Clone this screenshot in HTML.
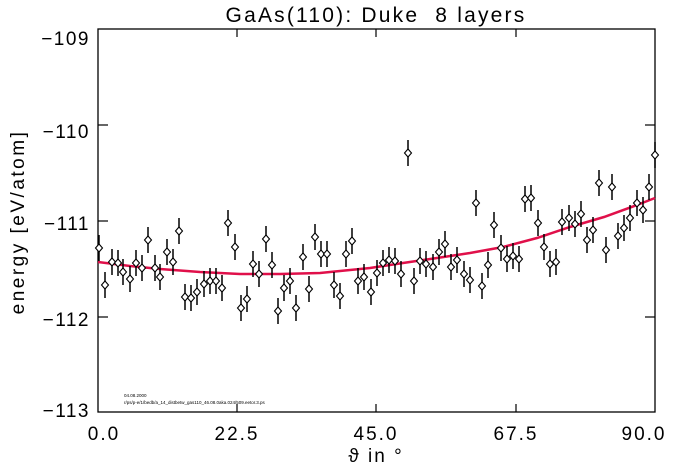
<!DOCTYPE html>
<html><head><meta charset="utf-8"><style>
body{margin:0;background:#fff;}
svg{display:block;font-family:"Liberation Sans",sans-serif;}
</style></head><body>
<svg width="676" height="466" viewBox="0 0 676 466" xmlns="http://www.w3.org/2000/svg">
<rect width="676" height="466" fill="#fff"/>
<text x="376" y="22" font-size="21" text-anchor="middle" fill="#000" letter-spacing="2.2" xml:space="preserve">GaAs(110): Duke  8 layers</text>
<rect x="98" y="29" width="557" height="383" fill="none" stroke="#000" stroke-width="1.3"/>
<g stroke="#000" stroke-width="1.2">
<line x1="237" y1="412" x2="237" y2="404"/><line x1="376" y1="412" x2="376" y2="404"/><line x1="516" y1="412" x2="516" y2="404"/>
<line x1="237" y1="29" x2="237" y2="37"/><line x1="376" y1="29" x2="376" y2="37"/><line x1="516" y1="29" x2="516" y2="37"/>
<line x1="98" y1="125" x2="108" y2="125"/><line x1="98" y1="221" x2="108" y2="221"/><line x1="98" y1="317" x2="108" y2="317"/>
<line x1="655" y1="125" x2="645" y2="125"/><line x1="655" y1="221" x2="645" y2="221"/><line x1="655" y1="317" x2="645" y2="317"/>
</g>
<g font-size="19" text-anchor="end" fill="#000" letter-spacing="1.5">
<text x="90" y="45">−109</text><text x="90" y="138">−110</text><text x="90" y="230">−111</text><text x="90" y="326">−112</text><text x="90" y="417">−113</text>
</g>
<g font-size="19" text-anchor="middle" fill="#000" letter-spacing="2">
<text x="104" y="440">0.0</text><text x="237" y="440">22.5</text><text x="376" y="440">45.0</text><text x="516" y="440">67.5</text><text x="644" y="440">90.0</text>
<text x="376" y="462">ϑ in °</text>
</g>
<text transform="translate(24,222) rotate(-90)" font-size="19" text-anchor="middle" letter-spacing="2.5">energy [eV/atom]</text>
<text x="124" y="397" font-size="4.5">04.08.2000</text>
<text x="124" y="404" font-size="4.5">r/ps/p-e/1/bedb/a_14_distbetw_gas110_46.08.0aka.024/509.eetor.3.ps</text>
<polyline fill="none" stroke="#e0104a" stroke-width="2.5" points="98,262 130,266 160,269 200,272 240,274 280,274 320,273 370,268 403,263 437,258 470,253 503,247 537,238 570,227 604,217 637,205 655,198"/>
<g id="pts" fill="#fff" stroke="#000" stroke-width="1.1"></g>
</svg>
<script>
var p=[[99,248],[105,285],[112,262],[118,263],[123,272],[130,279],[136,263],[142,268],[148,240],[155,268],[160,277],[167,252],[173,262],[179,231],[185,297],[191,298],[197,292],[204,284],[210,281],[216,281],[222,288],[228,223],[235,247],[241,308],[247,299],[253,264],[259,274],[266,239],[272,265],[278,311],[284,288],[290,281],[296,308],[303,257],[309,289],[315,237],[321,254],[327,254],[334,285],[340,296],[346,254],[352,241],[358,281],[364,277],[371,292],[377,273],[383,263],[389,260],[395,261],[401,274],[408,153],[414,281],[420,261],[426,264],[433,267],[439,252],[445,244],[451,267],[457,260],[464,274],[470,280],[476,203],[482,286],[488,265],[494,225],[501,248],[507,259],[513,256],[519,259],[525,199],[531,198],[538,223],[544,247],[550,264],[556,262],[562,222],[569,218],[575,224],[581,214],[587,240],[593,230],[599,183],[606,250],[612,187],[618,236],[624,228],[630,218],[637,203],[643,210],[649,187],[655,155]];
var g=document.getElementById('pts'),s='';
p.forEach(function(q){var x=q[0],y=q[1];s+='<line x1="'+x+'" y1="'+(y-13)+'" x2="'+x+'" y2="'+(y+13)+'" stroke-width="1.5"/><path d="M'+(x-3.5)+' '+y+'L'+x+' '+(y-4)+'L'+(x+3.5)+' '+y+'L'+x+' '+(y+4)+'Z"/>';});
g.innerHTML=s;
</script>
</body></html>
